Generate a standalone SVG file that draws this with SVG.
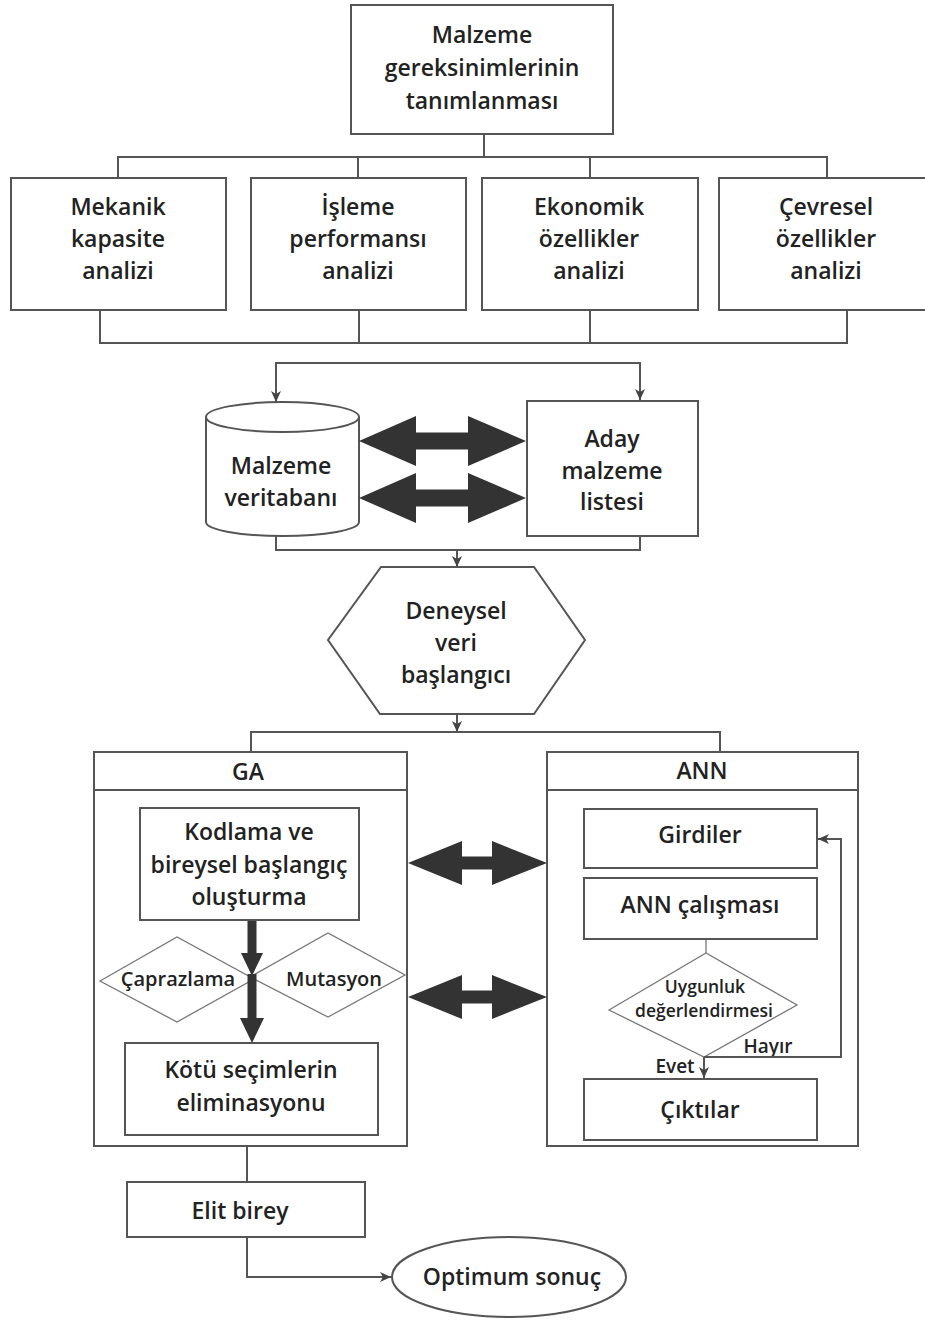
<svg xmlns="http://www.w3.org/2000/svg" width="925" height="1320" viewBox="0 0 925 1320">
<style>
.box{fill:#fff;stroke:#555;stroke-width:2}
.thin{fill:none;stroke:#777;stroke-width:1.3}
.ln{fill:none;stroke:#555;stroke-width:2}
.lnt{fill:none;stroke:#777;stroke-width:1.3}
.big{fill:#333}
text{font-family:"Open Sans","Noto Sans",sans-serif;fill:#222;text-anchor:middle;font-weight:600}
.t24{font-size:23px}
.t20{font-size:20px}
.t17{font-size:17.5px}
.t18{font-size:19px}
</style>
<defs>
<marker id="ah" markerUnits="userSpaceOnUse" markerWidth="12" markerHeight="12" refX="11" refY="5" orient="auto">
<path d="M0,0 L11,5 L0,10 L3,5 z" fill="#444"/>
</marker>
</defs>
<rect width="925" height="1320" fill="#fff"/>

<g id="node-top">
<rect class="box" x="351" y="5" width="262" height="129"/>
<text class="t24" x="482" y="43">Malzeme</text>
<text class="t24" x="482" y="76">gereksinimlerinin</text>
<text class="t24" x="482" y="109">tanımlanması</text>
</g>

<g id="node-mekanik">
<rect class="box" x="11" y="178" width="215" height="132"/>
<text class="t24" x="118" y="215">Mekanik</text>
<text class="t24" x="118" y="247">kapasite</text>
<text class="t24" x="118" y="279">analizi</text>
</g>
<g id="node-isleme">
<rect class="box" x="251" y="178" width="215" height="132"/>
<text class="t24" x="358" y="215">İşleme</text>
<text class="t24" x="358" y="247">performansı</text>
<text class="t24" x="358" y="279">analizi</text>
</g>
<g id="node-ekonomik">
<rect class="box" x="482" y="178" width="216" height="132"/>
<text class="t24" x="589" y="215">Ekonomik</text>
<text class="t24" x="589" y="247">özellikler</text>
<text class="t24" x="589" y="279">analizi</text>
</g>
<g id="node-cevresel">
<rect class="box" x="719" y="178" width="215" height="132"/>
<text class="t24" x="826" y="215">Çevresel</text>
<text class="t24" x="826" y="247">özellikler</text>
<text class="t24" x="826" y="279">analizi</text>
</g>

<g id="node-veritabani">
<path class="box" d="M206,417 L206,522 A76.5,14 0 0 0 359,522 L359,417"/>
<ellipse class="box" cx="282.5" cy="417" rx="76.5" ry="15"/>
<text class="t24" x="281" y="474">Malzeme</text>
<text class="t24" x="281" y="506">veritabanı</text>
</g>

<g id="node-aday">
<rect class="box" x="527" y="401" width="171" height="135"/>
<text class="t24" x="612" y="447">Aday</text>
<text class="t24" x="612" y="479">malzeme</text>
<text class="t24" x="612" y="510">listesi</text>
</g>

<g id="node-deneysel">
<polygon class="box" points="381,567 534,567 585,640 534,714 380,714 328,640"/>
<text class="t24" x="456" y="619">Deneysel</text>
<text class="t24" x="456" y="651">veri</text>
<text class="t24" x="456" y="683">başlangıcı</text>
</g>

<g id="node-ga">
<rect class="box" x="94" y="752" width="313" height="394"/>
<line class="ln" x1="94" y1="790" x2="407" y2="790"/>
<text class="t24" x="248" y="780">GA</text>
</g>
<g id="node-kodlama">
<rect class="box" x="140" y="808" width="219" height="112"/>
<text class="t24" x="249" y="840">Kodlama ve</text>
<text class="t24" x="249" y="873">bireysel başlangıç</text>
<text class="t24" x="249" y="905">oluşturma</text>
</g>
<g id="node-caprazlama">
<polygon class="thin" points="100,981 177,937 254,979 177,1022"/>
<text class="t20" x="178" y="986">Çaprazlama</text>
</g>
<g id="node-mutasyon">
<polygon class="thin" points="250,977 328,933 405,975 328,1017"/>
<text class="t20" x="334" y="986">Mutasyon</text>
</g>
<g id="node-kotu">
<rect class="box" x="125" y="1043" width="253" height="92"/>
<text class="t24" x="251" y="1078">Kötü seçimlerin</text>
<text class="t24" x="251" y="1111">eliminasyonu</text>
</g>

<g id="node-ann">
<rect class="box" x="547" y="752" width="311" height="394"/>
<line class="ln" x1="547" y1="790" x2="858" y2="790"/>
<text class="t24" x="702" y="779">ANN</text>
</g>
<g id="node-girdiler">
<rect class="box" x="584" y="809" width="233" height="59"/>
<text class="t24" x="700" y="843">Girdiler</text>
</g>
<g id="node-calisma">
<rect class="box" x="584" y="878" width="233" height="61"/>
<text class="t24" x="700" y="913">ANN çalışması</text>
</g>
<g id="node-uygunluk">
<polygon class="thin" points="609,1010 706,953 797,1005 704,1057"/>
<text class="t17" x="705" y="993">Uygunluk</text>
<text class="t17" x="704" y="1017">değerlendirmesi</text>
</g>
<text class="t18" x="768" y="1053">Hayır</text>
<text class="t18" x="675" y="1073">Evet</text>
<g id="node-ciktilar">
<rect class="box" x="584" y="1079" width="233" height="61"/>
<text class="t24" x="700" y="1118">Çıktılar</text>
</g>

<g id="node-elit">
<rect class="box" x="127" y="1182" width="238" height="55"/>
<text class="t24" x="240" y="1219">Elit birey</text>
</g>
<g id="node-optimum">
<ellipse class="box" cx="509" cy="1277" rx="117" ry="40"/>
<text class="t24" x="512" y="1285">Optimum sonuç</text>
</g>

<g id="connectors">
<polyline class="ln" points="484,134 484,157"/>
<polyline class="ln" points="118,177 118,157 827,157 827,177"/>
<polyline class="ln" points="358,157 358,177"/>
<polyline class="ln" points="590,157 590,177"/>
<polyline class="ln" points="100,311 100,343 847,343 847,311"/>
<polyline class="ln" points="359,311 359,343"/>
<polyline class="ln" points="590,311 590,343"/>
<polyline class="ln" points="276,385 276,363 640,363 640,385"/>
<line class="ln" x1="276" y1="380" x2="276" y2="402" marker-end="url(#ah)"/>
<line class="ln" x1="640" y1="380" x2="640" y2="400" marker-end="url(#ah)"/>
<polygon class="big" points="359,441 416,416 416,432.5 468,432.5 468,416 526,441 468,466 468,449.5 416,449.5 416,466"/>
<polygon class="big" points="359,498 416,473 416,489.5 468,489.5 468,473 526,498 468,523 468,506.5 416,506.5 416,523"/>
<polyline class="ln" points="276,536 276,550 640,550 640,537"/>
<line class="ln" x1="457" y1="550" x2="457" y2="567" marker-end="url(#ah)"/>
<line class="ln" x1="457" y1="715" x2="457" y2="732" marker-end="url(#ah)"/>
<polyline class="ln" points="251,751 251,732 720,732 720,751"/>
<polygon class="big" points="408,863 462,841 462,856.5 492,856.5 492,841 547,863 492,885 492,869.5 462,869.5 462,885"/>
<polygon class="big" points="408,997 462,975 462,990.5 492,990.5 492,975 547,997 492,1019 492,1003.5 462,1003.5 462,1019"/>
<rect class="big" x="247.5" y="921" width="9" height="34"/>
<polygon class="big" points="241,953 263,953 252,976"/>
<rect class="big" x="247.5" y="974" width="9" height="46"/>
<polygon class="big" points="240,1018 264,1018 252,1043"/>
<line class="lnt" x1="706" y1="940" x2="706" y2="953"/>
<line class="ln" x1="704" y1="1057" x2="704" y2="1078" marker-end="url(#ah)"/>
<polyline class="ln" points="704,1057 841,1057 841,839 818,839" marker-end="url(#ah)"/>
<polyline class="ln" points="247,1147 247,1181"/>
<polyline class="ln" points="247,1238 247,1277 391,1277" marker-end="url(#ah)"/>
</g>
</svg>
